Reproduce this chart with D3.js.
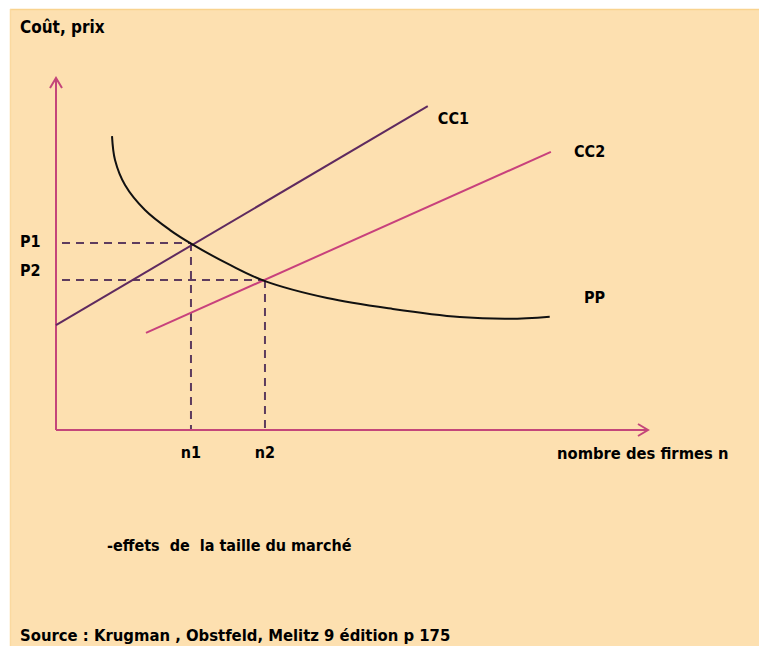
<!DOCTYPE html>
<html>
<head>
<meta charset="utf-8">
<script src="https://cdn.jsdelivr.net/npm/d3@7"></script>
<style>
  body { margin: 0; background: #fff; }
  text { font-family: "DejaVu Sans", sans-serif; font-weight: bold; font-stretch: condensed; fill: #000; white-space: pre; }
</style>
</head>
<body>
<div id="chart"></div>
<script>
// curve data in abstract units (x: number of firms, y: cost / price)
const cc1 = [[0, 2.98], [6.28, 9.2]];
const cc2 = [[1.52, 2.76], [8.36, 7.9]];
const pp = [
  [0.946, 8.35], [0.997, 7.67], [1.166, 6.96], [1.503, 6.25], [1.926, 5.68],
  [2.297, 5.28], [2.939, 4.69], [3.53, 4.23], [4.58, 3.75], [5.69, 3.44],
  [6.82, 3.21], [7.66, 3.16], [8.34, 3.22]
];
const equilibria = [
  { p: "P1", n: "n1", x: 2.28, y: 5.31 },
  { p: "P2", n: "n2", x: 3.53, y: 4.26 }
];
const curveLabels = [
  { name: "CC1", x: 6.45, y: 8.7 },
  { name: "CC2", x: 8.75, y: 7.75 },
  { name: "PP", x: 8.92, y: 3.6 }
];

const W = 759, H = 646;
const origin = { x: 56, y: 430 };

const x = d3.scaleLinear().domain([0, 10]).range([origin.x, 648]);
const y = d3.scaleLinear().domain([0, 10]).range([origin.y, 78]);

const svg = d3.select("#chart").append("svg")
  .attr("width", W).attr("height", H);

// background panel
svg.append("rect").attr("x", 10).attr("y", 9).attr("width", W - 10).attr("height", H - 9)
  .attr("fill", "#fde0b0");
svg.append("line").attr("x1", 10).attr("x2", W).attr("y1", 9.5).attr("y2", 9.5)
  .attr("stroke", "#f9d38e").attr("stroke-width", 1.5);
svg.append("line").attr("x1", 10.5).attr("x2", 10.5).attr("y1", 9).attr("y2", H)
  .attr("stroke", "#fbd9a0").attr("stroke-width", 1.5);

const axisColor = "#c4467a";
const line = d3.line().x(d => x(d[0])).y(d => y(d[1]));

// dashed guides
const dashColor = "#5e3c5e";
equilibria.forEach(e => {
  svg.append("line")
    .attr("x1", x(0) + 6).attr("x2", x(e.x))
    .attr("y1", y(e.y)).attr("y2", y(e.y))
    .attr("stroke", dashColor).attr("stroke-width", 2).attr("stroke-dasharray", "8,6");
  svg.append("line")
    .attr("x1", x(e.x)).attr("x2", x(e.x))
    .attr("y1", y(e.y)).attr("y2", y(0))
    .attr("stroke", dashColor).attr("stroke-width", 2).attr("stroke-dasharray", "8,6");
  svg.append("text").attr("x", 20).attr("y", y(e.y) + (e.p === "P1" ? 4 : -4))
    .attr("font-size", 16).text(e.p);
  svg.append("text").attr("x", x(e.x)).attr("y", 458).attr("text-anchor", "middle")
    .attr("font-size", 16).text(e.n);
});

// axes
svg.append("line").attr("x1", x(0)).attr("x2", x(0)).attr("y1", y(0)).attr("y2", y(10) + 1)
  .attr("stroke", axisColor).attr("stroke-width", 2);
svg.append("path").attr("d", `M${x(0) - 6},${y(10) + 10}L${x(0)},${y(10)}L${x(0) + 6},${y(10) + 10}`)
  .attr("fill", "none").attr("stroke", axisColor).attr("stroke-width", 2);
svg.append("line").attr("x1", x(0)).attr("x2", x(10) - 1).attr("y1", y(0)).attr("y2", y(0))
  .attr("stroke", axisColor).attr("stroke-width", 2);
svg.append("path").attr("d", `M${x(10) - 10},${y(0) - 6}L${x(10)},${y(0)}L${x(10) - 10},${y(0) + 6}`)
  .attr("fill", "none").attr("stroke", axisColor).attr("stroke-width", 2);

// curves
svg.append("path").datum(cc1).attr("d", line)
  .attr("fill", "none").attr("stroke", "#5f2a5f").attr("stroke-width", 2);
svg.append("path").datum(cc2).attr("d", line)
  .attr("fill", "none").attr("stroke", "#c8417c").attr("stroke-width", 2);
svg.append("path").datum(pp).attr("d", line.curve(d3.curveCatmullRom))
  .attr("fill", "none").attr("stroke", "#111").attr("stroke-width", 2);

curveLabels.forEach(c => {
  svg.append("text").attr("x", x(c.x)).attr("y", y(c.y)).attr("font-size", 16).text(c.name);
});

// texts
svg.append("text").attr("x", 20).attr("y", 33).attr("font-size", 17).text("Coût, prix");
svg.append("text").attr("x", 557).attr("y", 459).attr("font-size", 16.4).text("nombre des firmes n");
svg.append("text").attr("x", 107).attr("y", 551).attr("font-size", 16).text("-effets  de  la taille du marché");
svg.append("text").attr("x", 20).attr("y", 641).attr("font-size", 16.5)
  .text("Source : Krugman , Obstfeld, Melitz 9 édition p 175");
</script>
</body>
</html>
